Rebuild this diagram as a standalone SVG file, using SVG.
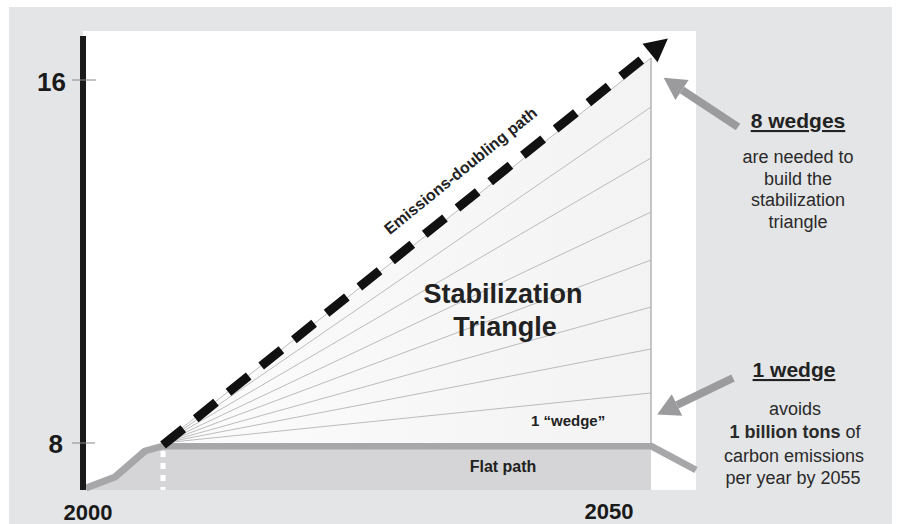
<svg xmlns="http://www.w3.org/2000/svg" width="897" height="524" viewBox="0 0 897 524">
<defs>
<style>
.t{font-family:"Liberation Sans",Arial,sans-serif;fill:#222}
.b{font-weight:bold}
.axis{font-family:"Liberation Sans",Arial,sans-serif;font-weight:bold;fill:#1a1a1a}
.note{font-family:"Liberation Sans",Arial,sans-serif;font-size:18px;fill:#2a2a2a;text-anchor:middle}
.fan{stroke:#b4b4b4;stroke-width:0.9;fill:none}
.callout{stroke:#9b9b9d;stroke-width:8;fill:none}
</style>
<linearGradient id="tri" x1="0" y1="0" x2="1" y2="0">
<stop offset="0" stop-color="#fcfcfc"/>
<stop offset="1" stop-color="#f3f3f4"/>
</linearGradient>
<marker id="grayHead" markerUnits="userSpaceOnUse" markerWidth="26" markerHeight="26" refX="0" refY="12" orient="auto" overflow="visible">
<path d="M0,0 L22,12 L0,24 Z" fill="#9b9b9d"/>
</marker>
<marker id="blackHead" markerUnits="userSpaceOnUse" markerWidth="26" markerHeight="26" refX="0" refY="12" orient="auto" overflow="visible">
<path d="M0,0 L23,12 L0,24 Z" fill="#111"/>
</marker>
</defs>

<rect x="0" y="0" width="897" height="524" fill="#ffffff"/>
<rect id="background" x="9" y="7" width="883" height="517" fill="#e4e5e7"/>
<rect id="panel" x="83" y="31" width="613" height="459" fill="#ffffff"/>

<g id="flat-path">
<path d="M86,488 L115,477 L145,451 L163,446 L651,446 L651,490 L86,490 Z" fill="#d5d5d7"/>
<polyline points="86,488 115,477 145,451 163,446 651,446 696,470" fill="none" stroke="#a7a7a9" stroke-width="7" stroke-linejoin="round"/>
<line x1="163" y1="451" x2="163" y2="490" stroke="#ffffff" stroke-width="5" stroke-dasharray="6 6"/>
<text class="t b" x="503" y="472" font-size="16" text-anchor="middle">Flat path</text>
</g>

<g id="triangle">
<path d="M163,443 L651,58 L651,443 Z" fill="url(#tri)"/>
<g class="fan">
<line x1="163" y1="443" x2="651" y2="58"/>
<line x1="163" y1="443" x2="651" y2="107"/>
<line x1="163" y1="443" x2="651" y2="158"/>
<line x1="163" y1="443" x2="651" y2="212"/>
<line x1="163" y1="443" x2="651" y2="260"/>
<line x1="163" y1="443" x2="651" y2="307"/>
<line x1="163" y1="443" x2="651" y2="349"/>
<line x1="163" y1="443" x2="651" y2="393"/>
</g>
<line x1="651" y1="58" x2="651" y2="443" stroke="#a9a9a9" stroke-width="1.3"/>
<text class="t b" x="503" y="303" font-size="27" text-anchor="middle">Stabilization</text>
<text class="t b" x="505" y="336" font-size="27" text-anchor="middle">Triangle</text>
<text class="t b" x="531" y="426" font-size="15">1 “wedge”</text>
</g>

<g id="axis">
<line x1="83" y1="36" x2="83" y2="490" stroke="#1a1a1a" stroke-width="6"/>
<line x1="72" y1="80" x2="96" y2="80" stroke="#888" stroke-width="1"/>
<line x1="72" y1="443" x2="95" y2="443" stroke="#888" stroke-width="1"/>
<text class="axis" x="66" y="91" font-size="26" text-anchor="end">16</text>
<text class="axis" x="63" y="453" font-size="26" text-anchor="end">8</text>
<text class="axis" x="88" y="520" font-size="22" text-anchor="middle">2000</text>
<text class="axis" x="609" y="519" font-size="22" text-anchor="middle">2050</text>
</g>

<g id="emissions-path">
<line x1="163" y1="445" x2="650" y2="53" stroke="#111" stroke-width="9" stroke-dasharray="26 16" marker-end="url(#blackHead)"/>
<text class="t b" font-size="16" text-anchor="middle" transform="translate(464,175) rotate(-39)">Emissions-doubling path</text>
</g>

<g id="connectors">
<line class="callout" x1="738" y1="127" x2="682" y2="90" marker-end="url(#grayHead)"/>
<line class="callout" x1="733" y1="378" x2="677" y2="405" marker-end="url(#grayHead)"/>
</g>

<g id="note-8-wedges">
<text class="t b" x="798" y="128" font-size="21" text-anchor="middle" text-decoration="underline">8 wedges</text>
<text class="note" x="798" y="163">are needed to</text>
<text class="note" x="798" y="185">build the</text>
<text class="note" x="798" y="206">stabilization</text>
<text class="note" x="798" y="228">triangle</text>
</g>

<g id="note-1-wedge">
<text class="t b" x="794" y="377" font-size="21" text-anchor="middle" text-decoration="underline">1 wedge</text>
<text class="note" x="795" y="415">avoids</text>
<text class="note" x="795" y="438"><tspan font-weight="bold">1 billion tons</tspan> of</text>
<text class="note" x="794" y="462">carbon emissions</text>
<text class="note" x="793" y="484">per year by 2055</text>
</g>
</svg>
